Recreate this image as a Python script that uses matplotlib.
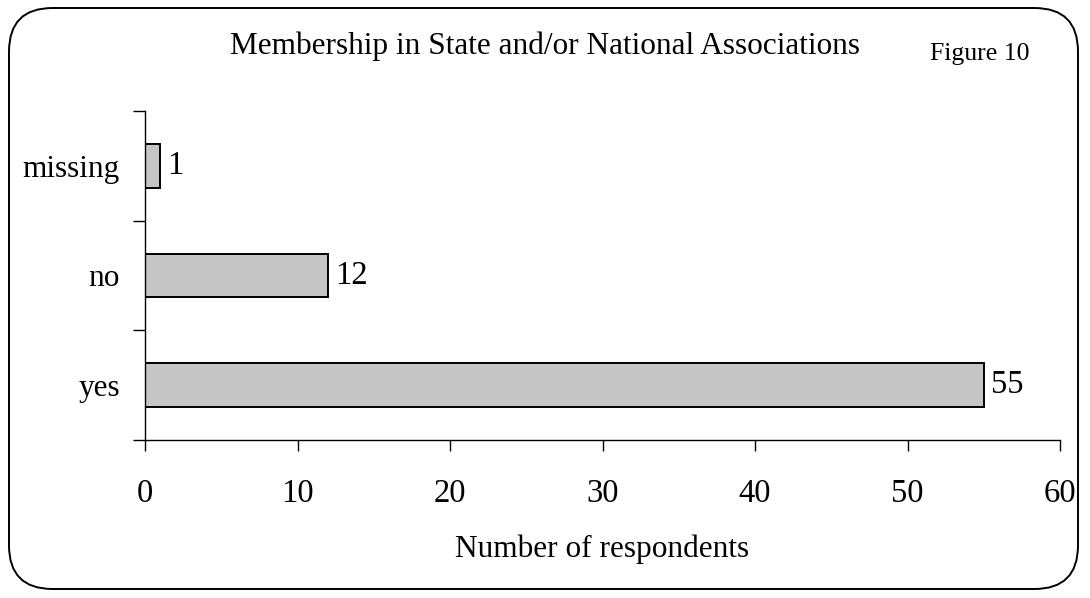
import matplotlib
matplotlib.use("Agg")
import matplotlib.pyplot as plt
from matplotlib.patches import FancyBboxPatch

categories = ["yes", "no", "missing"]
values = [55, 12, 1]
xticks = [0, 10, 20, 30, 40, 50, 60]

plt.rcParams['font.family'] = ['Liberation Serif', 'DejaVu Serif']

fig = plt.figure(figsize=(10.9, 5.98), dpi=100)
W, H = 1090, 598
# rounded border
border = FancyBboxPatch((9 / W, 9 / H), (1078 - 9) / W, (590 - 9) / H,
                        boxstyle="round,pad=0,rounding_size=0.04",
                        transform=fig.transFigure, fill=False, lw=1.4, ec='black',
                        mutation_aspect=W / H)
fig.patches.append(border)

ax = fig.add_axes([145 / W, 1 - 440 / H, (1060 - 145) / W, (440 - 111) / H])
y = range(len(categories))
ax.barh(y, values, height=0.4, color='#c6c6c6', edgecolor='black', linewidth=1.4)
for yi, v in zip(y, values):
    ax.text(v + 0.45, yi, str(v), va='center', ha='left', fontsize=23.5)

ax.set_xlim(0, 60)
ax.set_ylim(-0.5, 2.5)
ax.set_xticks(xticks)
ax.set_xticklabels([str(t) for t in xticks], fontsize=23.5)
ax.set_yticks(list(y))
ax.set_yticklabels(categories, fontsize=22.5)
ax.set_yticks([-0.5, 0.5, 1.5, 2.5], minor=True)
ax.tick_params(axis='y', which='major', length=0, pad=18)
ax.tick_params(axis='y', which='minor', length=9, width=1)
ax.tick_params(axis='x', which='major', length=8, width=1, pad=20)
for s in ['top', 'right']:
    ax.spines[s].set_visible(False)
for s in ['left', 'bottom']:
    ax.spines[s].set_linewidth(1)
ax.set_xlabel("Number of respondents", fontsize=22.5, labelpad=18)

fig.text(545 / W, 1 - 46 / H, "Membership in State and/or National Associations",
         ha='center', va='center', fontsize=22.5)
fig.text(980 / W, 1 - 54 / H, "Figure 10", ha='center', va='center', fontsize=18.5)

fig.savefig("out.png", dpi=100)
